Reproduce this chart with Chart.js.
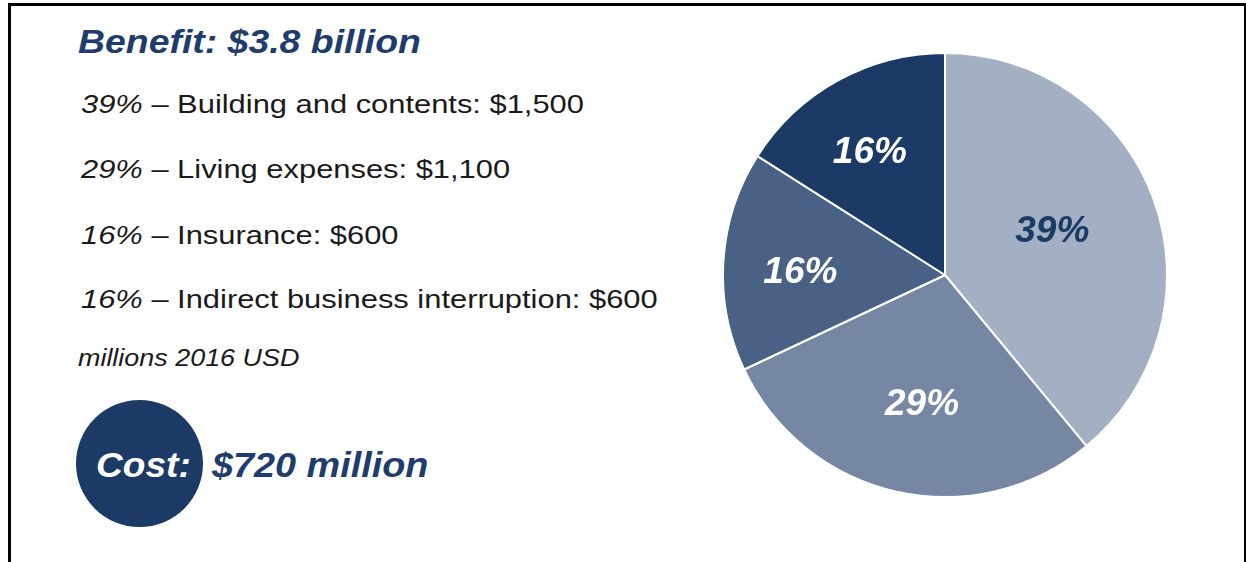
<!DOCTYPE html>
<html>
<head>
<meta charset="utf-8">
<script src="https://cdn.jsdelivr.net/npm/chart.js@4/dist/chart.umd.min.js"></script>
<style>
  html, body { margin: 0; padding: 0; background: #fff; width: 1246px; height: 562px; overflow: hidden; }
  body { position: relative; font-family: "Liberation Sans", Arial, sans-serif; }
  #frame { position: absolute; left: 8px; top: 3px; width: 1238px; height: 620px; box-sizing: border-box;
           border-left: 3px solid #000; border-top: 3px solid #000; border-right: 2px solid #000; }
  .t { position: absolute; white-space: nowrap; line-height: 1; transform-origin: left center; }
  .title { font-weight: bold; font-style: italic; color: #1f3d6c; }
  .line { color: #1a1a1a; }
  .line i { font-style: italic; }
  #circle { position: absolute; left: 76px; top: 400px; width: 127px; height: 127px; border-radius: 50%; background: #1c3a66; }
  #pie { position: absolute; left: 722px; top: 52px; }
</style>
</head>
<body>
<div id="frame"></div>
<div id="circle"></div>
<canvas id="pie" width="446" height="446"></canvas>
<script>
// ---- data ----
const categories = ["Building and contents", "Living expenses", "Insurance", "Indirect business interruption"];
const percents = [39, 29, 16, 16];
const amounts = ["$1,500", "$1,100", "$600", "$600"];
const benefitText = "Benefit: $3.8 billion";
const unitsText = "millions 2016 USD";
const costLabel = "Cost:";
const costValue = "$720 million";
const sliceColors = ["#a3afc2", "#7587a3", "#4a6186", "#1c3a66"];
const labelColors = ["#1c3a66", "#ffffff", "#ffffff", "#ffffff"];

// ---- text on left ----
function addText(html, cls, left, top, fs, sx) {
  const d = document.createElement('div');
  d.className = 't ' + cls;
  d.innerHTML = html;
  d.style.left = left + 'px';
  d.style.top = top + 'px';
  d.style.fontSize = fs + 'px';
  d.style.transform = 'scaleX(' + sx + ')';
  document.body.appendChild(d);
  return d;
}
addText(benefitText, 'title', 78, 24, 34, 1.10);
const lineTops = [91, 156, 222, 286];
categories.forEach((c, i) => {
  addText('<i>' + percents[i] + '%</i> \u2013 ' + c + ': ' + amounts[i], 'line', 81, lineTops[i], 26.5, 1.165);
});
addText('<i>' + unitsText + '</i>', 'line', 78, 347, 23, 1.17);
const cl = addText(costLabel, 'title', 96, 447, 35, 1.06);
cl.style.color = '#ffffff';
addText(costValue, 'title', 212, 447, 35, 1.08);

// ---- pie ----
const labelPlugin = {
  id: 'sliceLabels',
  afterDatasetsDraw(chart) {
    const ctx = chart.ctx;
    const meta = chart.getDatasetMeta(0);
    ctx.save();
    ctx.font = 'bold italic 37px "Liberation Sans", Arial, sans-serif';
    ctx.textAlign = 'center';
    ctx.textBaseline = 'middle';
    meta.data.forEach((arc, i) => {
      const p = arc.getProps(['x', 'y', 'startAngle', 'endAngle', 'outerRadius']);
      const theta = p.endAngle - p.startAngle;
      const mid = (p.startAngle + p.endAngle) / 2 - 2.5 * Math.PI / 180;
      const d = 1.02 * 4 * p.outerRadius * Math.sin(theta / 2) / (3 * theta);
      ctx.fillStyle = labelColors[i];
      ctx.fillText(percents[i] + '%', p.x + Math.cos(mid) * d, p.y + Math.sin(mid) * d + 1);
    });
    ctx.restore();
  }
};

new Chart(document.getElementById('pie'), {
  type: 'pie',
  data: {
    labels: categories,
    datasets: [{
      data: percents,
      backgroundColor: sliceColors,
      borderColor: '#ffffff',
      borderWidth: 2,
      hoverOffset: 0
    }]
  },
  options: {
    responsive: false,
    animation: false,
    layout: { padding: 0 },
    plugins: { legend: { display: false }, tooltip: { enabled: false } }
  },
  plugins: [labelPlugin]
});
</script>
</body>
</html>
